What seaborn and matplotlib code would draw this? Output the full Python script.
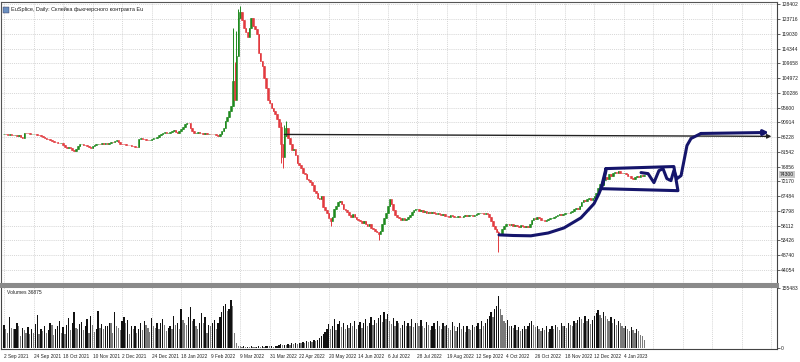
import numpy as np
import pandas as pd
import matplotlib
matplotlib.use("Agg")
import matplotlib.pyplot as plt
import seaborn as sns

# ---------------- data ----------------
title = "EuSplice, Daily: Склейка фьючерсного контракта Eu"
volume_label = "Volumes 36875"
date_labels = ["2 Sep 2021", "24 Sep 2021", "18 Oct 2021", "10 Nov 2021", "2 Dec 2021",
               "24 Dec 2021", "18 Jan 2022", "9 Feb 2022", "9 Mar 2022", "31 Mar 2022",
               "22 Apr 2022", "20 May 2022", "14 Jun 2022", "6 Jul 2022", "28 Jul 2022",
               "19 Aug 2022", "12 Sep 2022", "4 Oct 2022", "26 Oct 2022", "18 Nov 2022",
               "12 Dec 2022", "4 Jan 2023"]
label_step = 16
first_open = 87200
closes = [
    87300, 87100, 87000, 87100, 86900, 86800, 86900, 86700, 86900, 86300, 86100, 87700, 87600, 87500, 87300, 87400,
    87400, 87200, 87000, 86800, 86600, 86300, 86100, 85800, 85500, 85200, 85000, 84800, 84700, 84500, 84400, 84500,
    83800, 83200, 82900, 83000, 82900, 82300, 81900, 82600, 83500, 84000, 84200, 83900, 83600, 83300, 83000, 82900,
    83400, 83800, 84100, 84200, 84000, 84300, 84100, 84400, 84200, 84500, 84800, 84600, 85000, 85200, 84700, 84200,
    84100, 84000, 83900, 83800, 83700, 83400, 83300, 83200, 83000, 85500, 86000, 85800, 85500, 85300, 85200, 85400,
    85600, 85900, 86000, 86300, 86800, 87300, 87600, 87800, 87500, 87600, 88000, 88300, 88400, 88000, 87700, 88200,
    88800, 89500, 90300, 90800, 90600, 89300, 88200, 87600, 87700, 87800, 87500, 87600, 87300, 87500, 87200, 87400,
    87300, 87100, 87400, 86800, 86700, 87300, 88200, 89000, 91500, 92500, 94500, 96000, 104000, 98000, 112000, 124000,
    126000, 123500, 121000, 119500, 118000, 121000, 124000, 121500, 120500, 119000, 113000, 110500, 109000, 105000, 102000, 98000,
    97000, 95500, 94500, 93500, 92000, 89500, 84000, 80000, 86500, 89000, 86000, 84000, 82000, 82500, 80500, 78000,
    77500, 76500, 75000, 74500, 73000, 72500, 72000, 71000, 69000, 68500, 67000, 66500, 67500, 64000, 63000, 62000,
    60500, 59500, 61000, 63500, 64500, 65500, 66000, 65000, 63500, 63000, 62500, 61500, 61000, 61800, 61000, 60200,
    60000, 59500, 59000, 59500, 58500, 58000, 58500, 57500, 57000, 56500, 56000, 55500, 56500, 58500, 60500, 62000,
    64500, 66500, 65000, 63000, 61500, 61000, 60500, 60000, 60500, 60000, 60200, 61000, 61500, 62500, 63000, 63500,
    63500, 62800, 63200, 62500, 62800, 62300, 62600, 62000, 62400, 62100, 61800, 62200, 61700, 61500, 61800, 61300,
    61200, 61000, 61400, 61100, 60800, 61000, 61300, 61000, 60900, 61200, 61500, 61200, 61400, 61600, 61300, 61500,
    61800, 62000, 62200, 62100, 61900, 62000, 61800, 61000, 59500, 58000, 57000, 56000, 55000, 55500, 57000, 58000,
    58500, 58800, 58200, 58500, 58000, 58300, 58100, 57800, 58200, 57900, 57600, 58000, 57800, 58500, 60000, 60500,
    60200, 60800, 60400, 60000, 59800, 59600, 59900, 60100, 60400, 60600, 61000, 61200, 61500, 61800, 61600, 61900,
    62000, 62300, 62100, 62500, 62800, 63300, 63600, 63400, 64500, 65500, 66300, 66000, 66500, 66800, 66400, 67000,
    67500, 68500, 70000, 71500, 71000, 72500, 73500, 73000, 74500, 74000, 75000, 75300, 74800, 75500, 75000, 74700,
    75000, 74500, 74000, 73800, 73200, 72800, 73500, 74000, 73700, 74200, 74000, 74300,
]
spike_highs = {124: 121000, 125: 110000, 126: 120000, 127: 127000, 128: 128000,
               150: 91000, 152: 90000, 153: 91500, 268: 56500}
spike_lows = {124: 96000, 150: 78000, 151: 76500, 177: 58000, 203: 53500, 268: 49800}
volumes_k = [
    60, 50, 38, 80, 52, 48, 50, 64, 58, 30, 52, 46, 40, 55, 36, 48,
    40, 62, 85, 36, 50, 44, 56, 40, 46, 66, 60, 34, 48, 58, 70, 40,
    54, 36, 60, 78, 46, 64, 92, 52, 50, 62, 68, 46, 56, 74, 40, 84,
    60, 42, 50, 95, 52, 62, 50, 56, 58, 66, 64, 40, 92, 56, 52, 46,
    70, 80, 64, 72, 36, 56, 48, 58, 40, 50, 64, 46, 70, 60, 52, 42,
    78, 56, 52, 66, 48, 64, 74, 60, 44, 52, 56, 50, 84, 60, 64, 48,
    100, 72, 66, 60, 80, 105, 70, 76, 58, 50, 66, 90, 64, 80, 40, 60,
    56, 64, 72, 48, 66, 80, 92, 108, 115, 95, 100, 125, 110, 40, 12, 6,
    4, 3, 4, 2, 3, 2, 4, 3, 2, 3, 4, 3, 5, 3, 4, 5,
    4, 5, 3, 4, 6, 8, 10, 7, 9, 8, 11, 9, 12, 10, 13, 11,
    14, 12, 15, 13, 17, 15, 18, 16, 20, 18, 22, 26, 30, 36, 42, 50,
    62, 48, 56, 75, 46, 62, 70, 54, 66, 48, 60, 52, 64, 56, 70, 50,
    60, 68, 52, 64, 74, 56, 66, 80, 60, 72, 64, 78, 86, 68, 92, 76,
    88, 70, 62, 78, 58, 70, 66, 52, 60, 70, 56, 64, 58, 74, 54, 66,
    64, 56, 72, 58, 52, 68, 60, 46, 56, 64, 50, 70, 58, 48, 66, 56,
    60, 52, 46, 68, 58, 44, 54, 64, 48, 56, 42, 58, 50, 46, 60, 54,
    56, 64, 48, 70, 58, 66, 75, 84, 92, 80, 100, 110, 135, 100, 86, 70,
    64, 72, 56, 58, 52, 60, 46, 54, 44, 50, 58, 48, 56, 64, 70, 60,
    54, 58, 48, 44, 52, 46, 56, 42, 48, 58, 50, 60, 54, 46, 64, 56,
    58, 52, 66, 60, 56, 70, 64, 72, 80, 76, 66, 84, 70, 76, 62, 72,
    82, 90, 98, 86, 78, 92, 84, 76, 70, 80, 66, 76, 60, 70, 64, 56,
    52, 58, 48, 44, 54, 46, 40, 50, 44, 34, 30, 22,
]
price_ticks = [44054, 48740, 53426, 58112, 62798, 67484, 72170, 76856, 81542, 86228,
               90914, 95600, 100286, 104972, 109658, 114344, 119030, 123716, 128402]
vol_ticks = [0, 155483]
# hand-drawn annotations (bar index, price)
hline_idx = [152, 416]
hline_price = [87100, 86500]
curve_idx = [268.3, 276, 285.6, 295, 303.5, 312.7, 319.8, 322.5, 324.7, 326.3]
curve_price = [55200, 55000, 54900, 55800, 57400, 60600, 65100, 68300, 71500, 75600]
box_idx = [326.3, 363.1, 365.3, 323.6, 326.3]
box_price = [76250, 76900, 69240, 69880, 76250]
squig_idx = [345.3, 349.1, 352.3, 355.0, 357.2, 359.3, 361.5, 363.1, 364.8, 367.0, 368.6, 370.2, 372.4, 377.8, 414.6]
squig_price = [74980, 74660, 71790, 75600, 76250, 73070, 72430, 75600, 73070, 74020, 78800, 83580, 85820, 87410, 87730]

# ---------------- derived frame ----------------
n = len(closes)
idx = np.arange(n)
opens = np.array([first_open] + closes[:-1], dtype=float)
cl = np.array(closes, dtype=float)
highs = np.maximum(opens, cl)
lows = np.minimum(opens, cl)
for k, v in spike_highs.items():
    highs[k] = max(highs[k], v)
for k, v in spike_lows.items():
    lows[k] = min(lows[k], v)
up = cl >= opens
df = pd.DataFrame({"idx": idx, "open": opens, "close": cl, "high": highs, "low": lows,
                   "vol": np.array(volumes_k) * 1000.0})
vol_up = np.r_[True, df["vol"].values[1:] > df["vol"].values[:-1]]
df["vdir"] = np.where(vol_up, "up", "down")

sns.set_style("white")
FONT = ["Liberation Sans", "DejaVu Sans"]
plt.rcParams["font.family"] = FONT
FS = 3.6

W, H = 800, 362
fig = plt.figure(figsize=(W / 100, H / 100), dpi=100)

def rect(x0, y0, x1, y1):
    return [x0 / W, 1 - y1 / H, (x1 - x0) / W, (y1 - y0) / H]

ax = fig.add_axes(rect(1, 2, 777, 284))
axv = fig.add_axes(rect(1, 286, 777, 349))

xlim = (-1.63, 419.0)
grid_ticks = np.arange(0, 420, label_step)
grid_kw = dict(color="#c8c8c8", linestyle=(0, (1.5, 1.5)), linewidth=0.5)

# ---- main candles ----
col_up, col_dn = "#1f8a1f", "#e23a3f"
colors = np.where(up, col_up, col_dn)
ax.vlines(df["idx"], df["low"], df["high"], colors=colors, linewidth=0.7, zorder=3)
body_b = np.minimum(df["open"], df["close"])
body_h = np.abs(df["close"] - df["open"])
ax.bar(df["idx"], body_h, bottom=body_b, width=0.85, color=colors, edgecolor=colors,
       linewidth=0.4, zorder=4)

ymin, ymax = 39591, 129174
ax.set_xlim(*xlim)
ax.set_ylim(ymin, ymax)
ax.set_xticks(grid_ticks)
ax.set_xticklabels([])
ax.set_yticks(price_ticks)
ax.set_yticklabels([str(v) for v in price_ticks])
ax.yaxis.tick_right()
ax.tick_params(axis="y", direction="out", length=2, width=0.5, pad=1, labelsize=FS, colors="#222222")
ax.tick_params(axis="x", length=0)
ax.grid(True, **grid_kw)
ax.set_axisbelow(True)
for s in ["left", "top"]:
    ax.spines[s].set_color("#555555")
    ax.spines[s].set_linewidth(0.8)
ax.spines["right"].set_color("#444444")
ax.spines["right"].set_linewidth(0.8)
ax.spines["bottom"].set_color("#8a8a8a")
ax.spines["bottom"].set_linewidth(2.2)

# current price label
ax.text(1.004, (cl[-1] - ymin) / (ymax - ymin), f"{int(cl[-1])}", transform=ax.transAxes,
        fontsize=FS, va="center", ha="left", color="#222222",
        bbox=dict(boxstyle="square,pad=0.15", fc="#c8c8c8", ec="none"))

# title
ax.text(0.013, 0.984, title, transform=ax.transAxes, fontsize=4.0, va="top", ha="left", color="#222222")
ax.add_patch(plt.Rectangle((0.003, 0.962), 0.007, 0.02, transform=ax.transAxes,
                           fc="#6a8fc0", ec="#335", lw=0.3))

# annotations
navy = "#15156b"
ax.annotate("", xy=(hline_idx[1], hline_price[1]), xytext=(hline_idx[0], hline_price[0]),
            arrowprops=dict(arrowstyle="-|>", color="#222222", lw=1.0, mutation_scale=6,
                            shrinkA=0, shrinkB=0), zorder=6)
ax.plot(curve_idx, curve_price, color=navy, lw=2.2, solid_capstyle="round", solid_joinstyle="round", zorder=7)
ax.plot(box_idx, box_price, color=navy, lw=2.2, solid_capstyle="round", solid_joinstyle="round", zorder=7)
ax.plot(squig_idx[:-1], squig_price[:-1], color=navy, lw=2.2, solid_capstyle="round", solid_joinstyle="round", zorder=7)
ax.annotate("", xy=(squig_idx[-1], squig_price[-1]), xytext=(squig_idx[-2], squig_price[-2]),
            arrowprops=dict(arrowstyle="-|>", color=navy, lw=2.2, mutation_scale=7,
                            shrinkA=0, shrinkB=0), zorder=7)

# ---- volume panel ----
sns.barplot(data=df, x="idx", y="vol", hue="vdir", palette={"up": "#111111", "down": "#7a7a7a"},
            dodge=False, width=0.7, legend=False, ax=axv, zorder=3, linewidth=0)
axv.set_xlim(*xlim)
axv.set_ylim(-2591, 160665)
axv.set_xticks(grid_ticks)
axv.set_xticklabels(date_labels + [""] * (len(grid_ticks) - len(date_labels)), ha="left")
axv.tick_params(axis="x", direction="out", length=2, width=0.5, pad=1.5, labelsize=3.45, colors="#222222")
axv.set_yticks(vol_ticks)
axv.set_yticklabels([str(v) for v in vol_ticks])
axv.yaxis.tick_right()
axv.tick_params(axis="y", direction="out", length=2, width=0.5, pad=1, labelsize=FS, colors="#222222")
axv.set_xlabel("")
axv.set_ylabel("")
axv.grid(True, **grid_kw)
axv.grid(False, axis="y")
axv.set_axisbelow(True)
axv.spines["top"].set_color("#8a8a8a")
axv.spines["top"].set_linewidth(2.2)
for s in ["left", "right", "bottom"]:
    axv.spines[s].set_color("#444444")
    axv.spines[s].set_linewidth(0.8)
axv.text(0.008, 0.93, volume_label, transform=axv.transAxes, fontsize=FS, va="top", ha="left", color="#222222")

fig.savefig("out.png", dpi=100, facecolor="white")
